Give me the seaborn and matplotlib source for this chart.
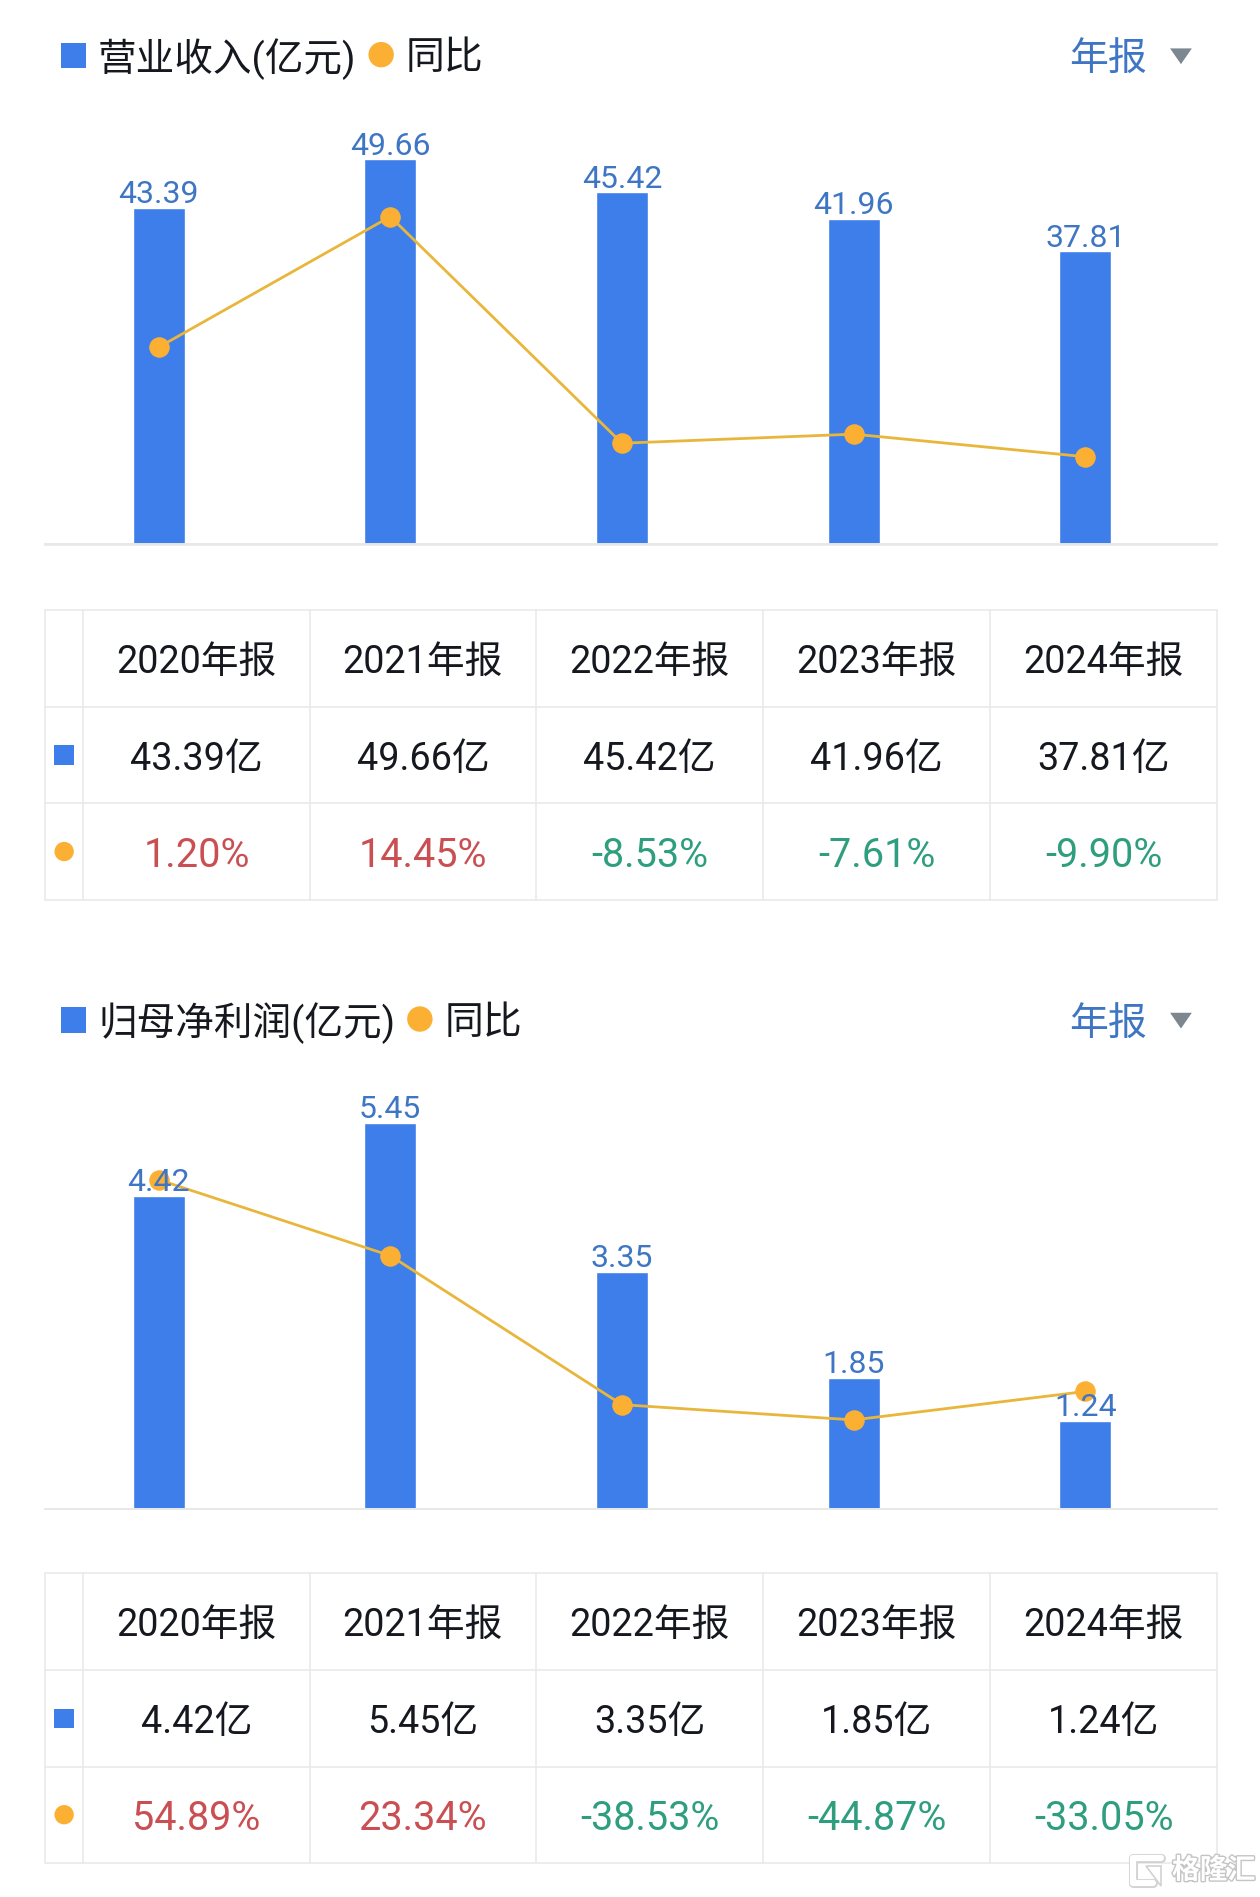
import matplotlib
matplotlib.use('Agg')
import matplotlib.pyplot as plt
import matplotlib.patheffects as pe
from matplotlib.patches import Rectangle, Circle, Polygon
import pandas as pd
import seaborn as sns

# Data
years = ['2020', '2021', '2022', '2023', '2024']
revenue = [43.39, 49.66, 45.42, 41.96, 37.81]
revenue_yoy = [1.20, 14.45, -8.53, -7.61, -9.90]
profit = [4.42, 5.45, 3.35, 1.85, 1.24]
profit_yoy = [54.89, 23.34, -38.53, -44.87, -33.05]

BLUE = '#3d7eea'
ORANGE = '#fbb034'
LINE = '#e9b63c'
LABEL = '#3f76c4'
RED = '#c94f52'
GREEN = '#2f9e7e'
DARK = '#15181f'
GRID = '#e8e8e5'

W, H = 1260, 1897
S = 1.21  # the layout below was measured on a picture 1/1.21 this size

sns.set_theme(style='white')
plt.rcParams['font.family'] = ['Roboto', 'Noto Sans CJK SC', 'DejaVu Sans']

fig = plt.figure(figsize=(W / 100, H / 100), dpi=100, facecolor='white')

# whole-figure axes in pixels for legend, table and watermark
bg = fig.add_axes([0, 0, 1, 1], zorder=3)
bg.set_xlim(0, W)
bg.set_ylim(H, 0)
bg.axis('off')
bg.patch.set_alpha(0)

col_x = [37, 69, 256, 443, 630.5, 818.5, 1006]
row_y = [504, 584, 664, 743.5]


def panel(dy, table_dy, name, legend_dot_x, values, yoy, ylim, ylim2):
    # chart
    left, right = 37 * S, 1006 * S
    top, bottom = (80 + dy) * S, (450 + dy) * S
    ax = fig.add_axes([left / W, 1 - bottom / H, (right - left) / W, (bottom - top) / H])
    df = pd.DataFrame({'year': years, 'value': values, 'yoy': yoy})
    sns.barplot(data=df, x='year', y='value', color=BLUE, width=0.2245, saturation=1, ax=ax)
    ax.set_ylim(*ylim)
    ax2 = ax.twinx()
    sns.lineplot(data=df, x='year', y='yoy', color=LINE, linewidth=2, marker='o', markersize=14,
                 markerfacecolor=ORANGE, markeredgecolor=ORANGE, sort=False, ax=ax2)
    ax2.set_ylim(*ylim2)
    # value labels sit over the dots, so they need their own axes on top
    ax3 = ax.twinx()
    ax3.set_ylim(*ylim)
    for i, v in enumerate(values):
        ax3.annotate(f'{v:.2f}', (i, v), xytext=(0, -1), textcoords='offset points',
                     ha='center', va='bottom', color=LABEL, fontsize=23)
    for a in (ax, ax2, ax3):
        a.set_xlim(-0.491, 4.569)
        a.set_xlabel('')
        a.set_ylabel('')
        a.set_yticks([])
        a.tick_params(bottom=False, labelbottom=False)
        for side in ('top', 'left', 'right'):
            a.spines[side].set_visible(False)
        a.spines['bottom'].set_color('#e8e8e6')
        a.spines['bottom'].set_linewidth(1.2)

    # legend row
    y = (46 + dy) * S
    ty = y + 3
    bg.add_patch(Rectangle((50 * S, y - 10.5 * S), 21 * S, 21 * S, color=BLUE, lw=0))
    bg.text(81 * S, ty, name + '(亿元)', fontsize=27.8, color=DARK, va='center', ha='left')
    bg.add_patch(Circle((legend_dot_x * S, y - 1), 10.5 * S, color=ORANGE, lw=0))
    bg.text((legend_dot_x + 20.5) * S, ty, '同比', fontsize=28, color=DARK, va='center', ha='left')
    bg.text(916 * S, ty + 2, '年报', fontsize=28, color=LABEL, va='center', ha='center')
    bg.add_patch(Polygon([(967 * S, y - 6 * S), (985 * S, y - 6 * S), (976 * S, y + 7 * S)],
                         color='#7d8790', lw=0))

    # table grid
    rows = [(r + table_dy) * S for r in row_y]
    cols = [c * S for c in col_x]
    for r in rows:
        bg.plot([cols[0], cols[-1]], [r, r], color=GRID, lw=1.1)
    for c in cols:
        bg.plot([c, c], [rows[0], rows[-1]], color=GRID, lw=1.1)

    # table text
    off = 3.5 * S
    for i in range(5):
        cx = (cols[i + 1] + cols[i + 2]) / 2
        bg.text(cx, (rows[0] + rows[1]) / 2 + off, years[i] + '年报', fontsize=27.2, color=DARK,
                ha='center', va='center')
        bg.text(cx, (rows[1] + rows[2]) / 2 + off, f'{values[i]:.2f}亿', fontsize=27.2, color=DARK,
                ha='center', va='center')
        color = RED if yoy[i] > 0 else GREEN
        bg.text(cx, (rows[2] + rows[3]) / 2 + off, f'{yoy[i]:.2f}%', fontsize=28.5, color=color,
                ha='center', va='center')
    icon_x = 53 * S
    ym = (rows[1] + rows[2]) / 2
    bg.add_patch(Rectangle((icon_x - 8 * S, ym - 8 * S), 16 * S, 16 * S, color=BLUE, lw=0))
    bg.add_patch(Circle((icon_x, (rows[2] + rows[3]) / 2), 8 * S, color=ORANGE, lw=0))


panel(0, 0, '营业收入', 315, revenue, revenue_yoy, (0, 370 / 6.41), (-18.8, 26.6))
panel(797, 796, '归母净利润', 347, profit, profit_yoy, (0, 370 / 58.5), (-81.8, 104.1))

# watermark
halo = [pe.withStroke(linewidth=6.5, foreground='#d2d2d2')]
bg.plot([1161, 1133, 1133, 1153], [1858, 1858, 1883, 1883], color='white', lw=4.5,
        solid_capstyle='round', solid_joinstyle='round', path_effects=halo)
bg.add_patch(Polygon([(1146, 1866), (1161, 1866), (1161, 1886)], fc='white', ec='#d2d2d2', lw=1.2))
bg.text(1172, 1871, '格隆汇', fontsize=20, color='white', ha='left', va='center', fontweight='bold',
        path_effects=[pe.withStroke(linewidth=2, foreground='#c4c4c4')])

fig.savefig('out.png', dpi=100, facecolor='white')
